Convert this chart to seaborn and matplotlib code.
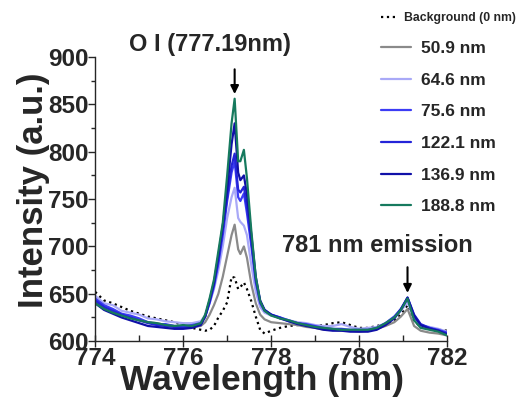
import numpy as np
import pandas as pd
import seaborn as sns
import matplotlib.pyplot as plt
from matplotlib.ticker import MultipleLocator

sns.set_style("ticks")
plt.rcParams['font.family'] = ['Liberation Sans', 'DejaVu Sans']

wavelength = [774.0, 774.2, 774.4, 774.6, 774.8, 775.0, 775.2, 775.4, 775.6, 775.8,
              776.0, 776.2, 776.4, 776.5, 776.6, 776.7, 776.8, 776.9, 777.0, 777.1,
              777.17, 777.25, 777.3, 777.38, 777.45, 777.55, 777.65, 777.75, 777.85, 778.0,
              778.2, 778.4, 778.6, 778.8, 779.0, 779.2, 779.4, 779.6, 779.8, 780.0,
              780.2, 780.4, 780.6, 780.8, 780.95, 781.1, 781.25, 781.4, 781.6, 781.8, 782.0]

background = [652, 643, 640, 636, 632, 629, 626, 624, 622, 620,
              617, 614, 612, 611, 612, 616, 625, 632, 641, 668,
              667, 655, 657, 662, 655, 642, 626, 612, 608, 611,
              614, 616, 617, 616, 616, 617, 619, 620, 617, 614,
              614, 616, 618, 622, 628, 638, 622, 615, 613, 612, 611]
s50_9 = [641, 636, 632, 628, 625, 622, 620, 619, 617, 616,
         615, 615, 616, 620, 628, 638, 650, 668, 690, 712,
         723, 697, 692, 700, 688, 660, 640, 628, 623, 620,
         619, 618, 617, 615, 614, 612, 612, 611, 611, 610,
         611, 613, 616, 620, 626, 634, 616, 611, 609, 608, 606]
s64_6 = [648, 640, 638, 632, 630, 628, 624, 623, 621, 620,
         619, 619, 621, 627, 640, 655, 675, 700, 730, 752,
         762, 730, 726, 722, 712, 680, 652, 636, 630, 627,
         625, 622, 620, 619, 617, 616, 616, 618, 615, 613,
         614, 615, 619, 626, 632, 641, 624, 617, 615, 613, 610]
s75_6 = [645, 638, 634, 629, 627, 624, 620, 618, 618, 616,
         616, 617, 619, 626, 640, 658, 682, 712, 748, 778,
         790, 752, 748, 756, 735, 700, 662, 640, 632, 628,
         625, 622, 619, 618, 616, 614, 613, 613, 612, 612,
         612, 614, 619, 626, 634, 645, 626, 617, 614, 612, 609]
s122_1 = [643, 636, 632, 628, 625, 622, 619, 617, 616, 615,
          614, 615, 618, 626, 642, 660, 686, 718, 752, 785,
          798, 760, 757, 763, 742, 705, 665, 642, 633, 628,
          625, 621, 619, 617, 615, 613, 612, 612, 611, 611,
          611, 613, 618, 625, 634, 646, 628, 618, 614, 611, 608]
s136_9 = [640, 633, 629, 625, 622, 619, 616, 615, 614, 613,
          613, 614, 617, 626, 643, 662, 690, 722, 760, 808,
          830, 778, 770, 775, 755, 712, 668, 643, 633, 628,
          624, 621, 618, 616, 614, 612, 611, 611, 610, 610,
          610, 612, 617, 624, 633, 646, 627, 617, 613, 611, 607]
s188_8 = [640, 634, 630, 627, 624, 622, 620, 619, 617, 616,
          617, 616, 619, 628, 645, 665, 695, 725, 775, 830,
          856, 790, 790, 802, 772, 716, 668, 642, 632, 627,
          624, 622, 619, 617, 615, 614, 613, 612, 612, 612,
          612, 614, 619, 625, 633, 645, 622, 614, 612, 610, 606]

labels = ["Background (0 nm)", "50.9 nm", "64.6 nm", "75.6 nm",
          "122.1 nm", "136.9 nm", "188.8 nm"]
series = [background, s50_9, s64_6, s75_6, s122_1, s136_9, s188_8]
colors = ["black", "#8a8a8a", "#a9a9f7", "#3c3cf5", "#2424d8", "#1010a8", "#167a5e"]
styles = [":", "-", "-", "-", "-", "-", "-"]

fig = plt.figure(figsize=(5.26, 3.99), dpi=100)
ax = fig.add_axes([0.181, 0.145, 0.669, 0.712])

for lab, vals, col, ls in zip(labels, series, colors, styles):
    df = pd.DataFrame({"wl": wavelength, "I": vals})
    sns.lineplot(data=df, x="wl", y="I", ax=ax, color=col, linestyle=ls,
                 linewidth=1.6, label=lab)

ax.set_xlim(774, 782)
ax.set_ylim(600, 900)
ax.xaxis.set_major_locator(MultipleLocator(2))
ax.xaxis.set_minor_locator(MultipleLocator(1))
ax.yaxis.set_major_locator(MultipleLocator(50))
ax.yaxis.set_minor_locator(MultipleLocator(25))
sns.despine(ax=ax)
ax.tick_params(axis='x', which='major', direction='inout', length=8, width=1)
ax.tick_params(axis='x', which='minor', direction='in', length=4, width=1)
ax.tick_params(axis='y', which='major', direction='out', length=5, width=1)
ax.tick_params(axis='y', which='minor', direction='out', length=3, width=1)
ax.tick_params(labelsize=17.5, pad=0)
for t in ax.get_xticklabels() + ax.get_yticklabels():
    t.set_fontweight('bold')
for sp in ax.spines.values():
    sp.set_linewidth(1)

ax.set_xlabel("Wavelength (nm)", fontsize=25.5, fontweight='bold', va='center')
ax.xaxis.set_label_coords(0.474, -0.14)
ax.set_ylabel("Intensity (a.u.)", fontsize=25, fontweight='bold', va='center')
ax.yaxis.set_label_coords(-0.176, 0.53)

ax.text(776.61, 913, "O I (777.19nm)", fontsize=17, fontweight='bold',
        ha='center', va='center', clip_on=False)
ax.annotate("", xy=(777.17, 858), xytext=(777.17, 890),
            arrowprops=dict(arrowstyle="-|>", color="black", lw=1.5, mutation_scale=12))
ax.text(780.41, 701, "781 nm emission", fontsize=17, fontweight='bold',
        ha='center', va='center')
ax.annotate("", xy=(781.1, 648), xytext=(781.1, 681),
            arrowprops=dict(arrowstyle="-|>", color="black", lw=1.5, mutation_scale=12))

handles, labs = ax.get_legend_handles_labels()
ax.get_legend().remove()
leg_bg = fig.legend(handles[:1], labs[:1], loc='upper left',
                    bbox_to_anchor=(381 / 526, 1 - 12 / 399), frameon=False,
                    borderpad=0, borderaxespad=0, handlelength=1.3, handletextpad=0.6,
                    prop={'weight': 'bold', 'size': 8.8})
leg = fig.legend(handles[1:], labs[1:], loc='upper left',
                 bbox_to_anchor=(381 / 526, 1 - 41 / 399), frameon=False,
                 borderpad=0, borderaxespad=0, handlelength=1.75, handletextpad=0.55,
                 labelspacing=0.95, prop={'weight': 'bold', 'size': 12.5})

fig.savefig("out.png", dpi=100)
